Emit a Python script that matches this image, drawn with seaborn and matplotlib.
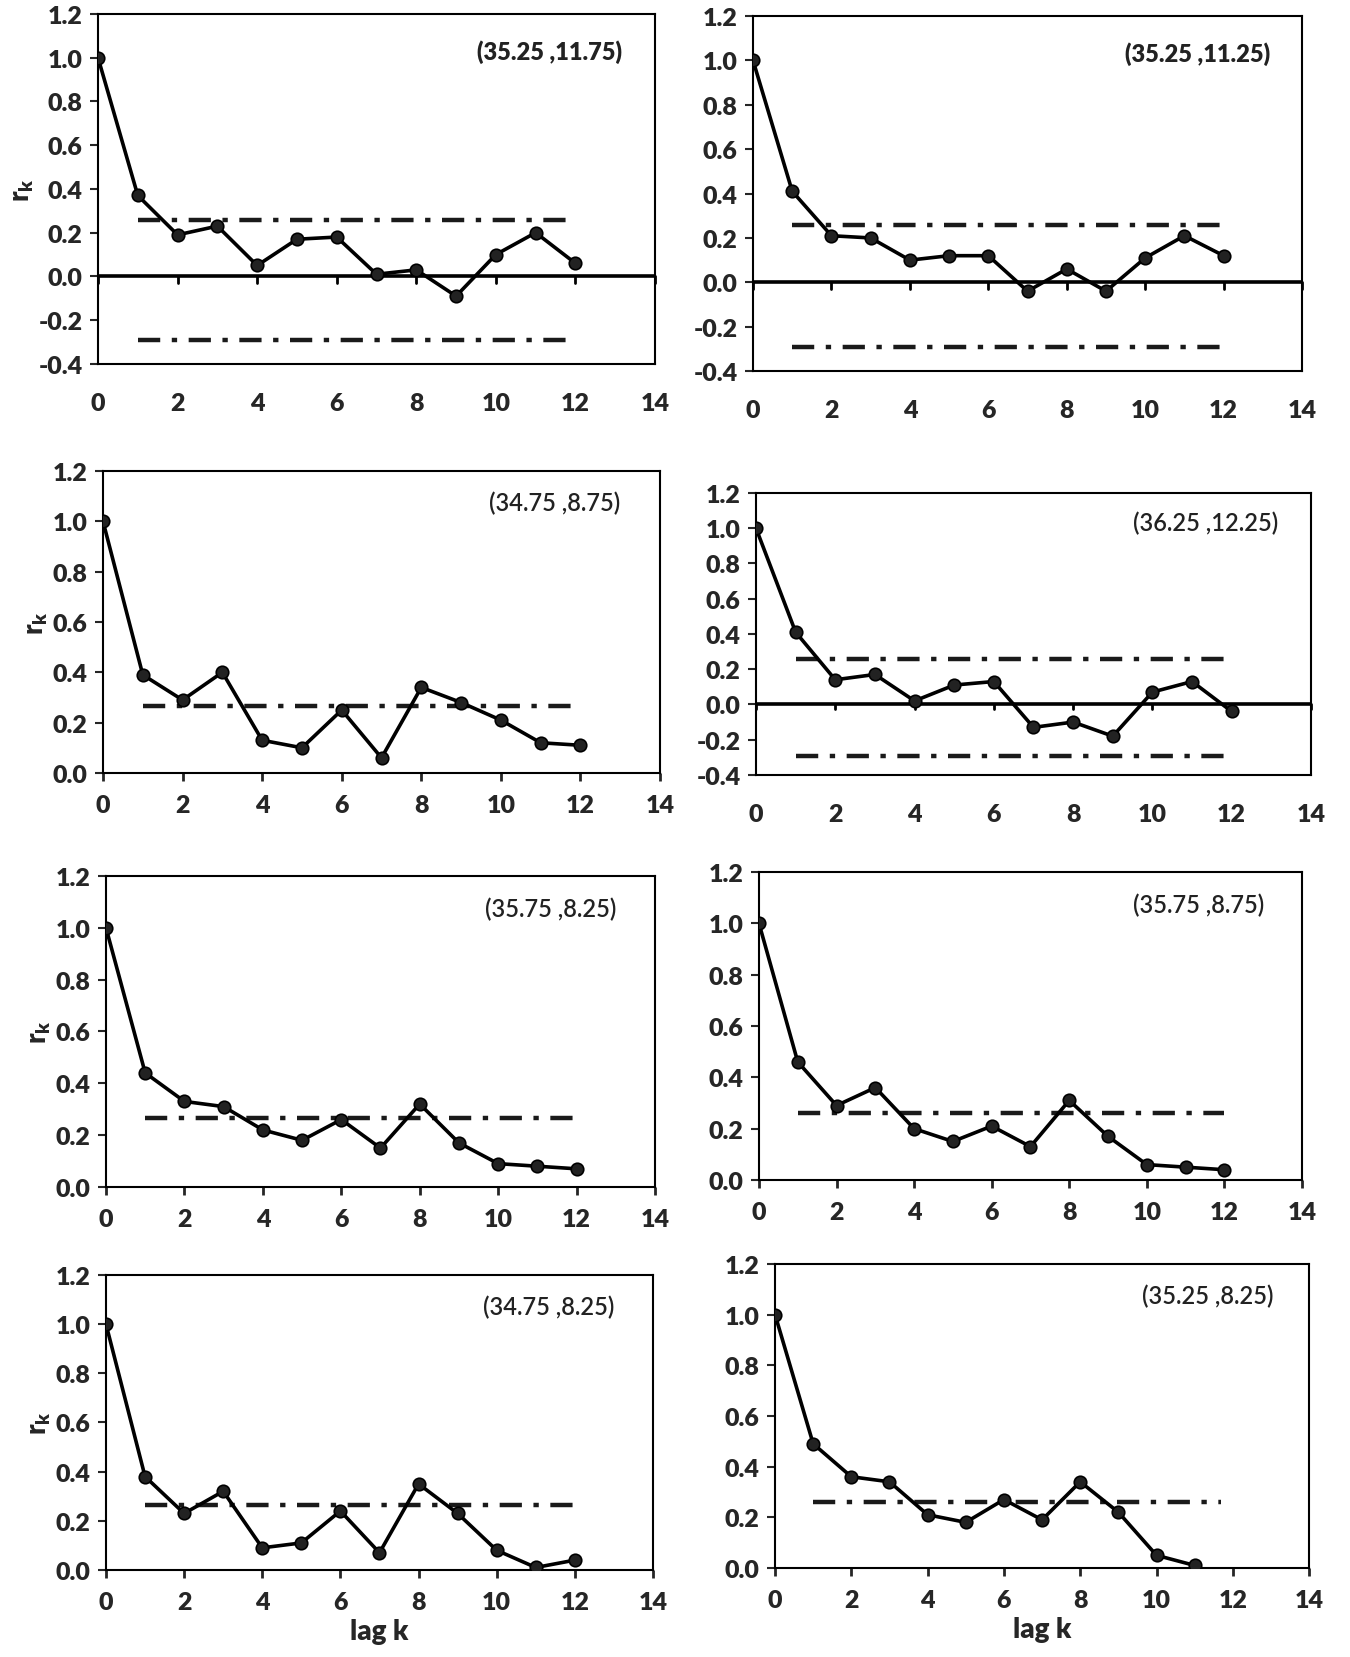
import matplotlib
matplotlib.use("Agg")
import matplotlib.pyplot as plt
import seaborn as sns
import pandas as pd

# ---------------- data ----------------
lags = list(range(13))
titles = ["(35.25 ,11.75)", "(35.25 ,11.25)", "(34.75 ,8.75)", "(36.25 ,12.25)",
          "(35.75 ,8.25)", "(35.75 ,8.75)", "(34.75 ,8.25)", "(35.25 ,8.25)"]
r_35_25_11_75 = [1.00, 0.37, 0.19, 0.23, 0.05, 0.17, 0.18, 0.01, 0.03, -0.09, 0.10, 0.20, 0.06]
r_35_25_11_25 = [1.00, 0.41, 0.21, 0.20, 0.10, 0.12, 0.12, -0.04, 0.06, -0.04, 0.11, 0.21, 0.12]
r_34_75_8_75 = [1.00, 0.39, 0.29, 0.40, 0.13, 0.10, 0.25, 0.06, 0.34, 0.28, 0.21, 0.12, 0.11]
r_36_25_12_25 = [1.00, 0.41, 0.14, 0.17, 0.02, 0.11, 0.13, -0.13, -0.10, -0.18, 0.07, 0.13, -0.04]
r_35_75_8_25 = [1.00, 0.44, 0.33, 0.31, 0.22, 0.18, 0.26, 0.15, 0.32, 0.17, 0.09, 0.08, 0.07]
r_35_75_8_75 = [1.00, 0.46, 0.29, 0.36, 0.20, 0.15, 0.21, 0.13, 0.31, 0.17, 0.06, 0.05, 0.04]
r_34_75_8_25 = [1.00, 0.38, 0.23, 0.32, 0.09, 0.11, 0.24, 0.07, 0.35, 0.23, 0.08, 0.01, 0.04]
r_35_25_8_25 = [1.00, 0.49, 0.36, 0.34, 0.21, 0.18, 0.27, 0.19, 0.34, 0.22, 0.05, 0.01]
series = [r_35_25_11_75, r_35_25_11_25, r_34_75_8_75, r_36_25_12_25,
          r_35_75_8_25, r_35_75_8_75, r_34_75_8_25, r_35_25_8_25]
upper_limit = [0.26, 0.26, 0.265, 0.26, 0.265, 0.26, 0.265, 0.26]
lower_limit = [-0.29, -0.29, None, -0.29, None, None, None, None]
band_end = [12, 12, 12, 12, 12, 12, 12, 11.7]
x_ticks = [0, 2, 4, 6, 8, 10, 12, 14]

# ---------------- style ----------------
sns.set_theme(style="white")
FONT = ["Lato", "DejaVu Sans"]
plt.rcParams["font.family"] = FONT
plt.rcParams["font.weight"] = "bold"

fig = plt.figure(figsize=(13.5, 16.58), dpi=100)

# axes positions [left, bottom, width, height] in figure fraction
positions = [
    [0.0726, 0.7799, 0.4126, 0.2111],
    [0.5578, 0.7756, 0.4067, 0.2141],
    [0.0763, 0.5332, 0.4126, 0.1821],
    [0.5600, 0.5320, 0.4111, 0.1701],
    [0.0785, 0.2835, 0.4067, 0.1876],
    [0.5622, 0.2877, 0.4022, 0.1858],
    [0.0785, 0.0525, 0.4052, 0.1779],
    [0.5741, 0.0537, 0.3956, 0.1834],
]

dashdot = (0, (5, 2.6, 1.2, 2.6))
TICK_FS = 18

for i, (pos, vals) in enumerate(zip(positions, series)):
    ax = fig.add_axes(pos)
    df = pd.DataFrame({"lag": lags[:len(vals)], "r": vals})
    sns.lineplot(data=df, x="lag", y="r", ax=ax, color="black", lw=2.6,
                 marker="o", markersize=9, markerfacecolor="#222222",
                 markeredgecolor="black", markeredgewidth=1.2, zorder=5)
    # confidence limits
    ax.hlines(upper_limit[i], 1, band_end[i], colors="#1a1a1a", lw=3.2,
              linestyles=[dashdot], zorder=3)
    neg = lower_limit[i] is not None
    if neg:
        ax.hlines(lower_limit[i], 1, band_end[i], colors="#1a1a1a", lw=3.2,
                  linestyles=[dashdot], zorder=3)
        ax.axhline(0, color="black", lw=2.6, zorder=4)
        ax.set_ylim(-0.4, 1.2)
        ax.set_yticks([-0.4, -0.2, 0.0, 0.2, 0.4, 0.6, 0.8, 1.0, 1.2])
        # tick marks on the zero line
        for xt in x_ticks:
            ax.plot([xt, xt], [0, -0.028], color="black", lw=2, clip_on=False, zorder=4)
        ax.tick_params(axis="x", length=0, pad=20)
    else:
        ax.set_ylim(0.0, 1.2)
        ax.set_yticks([0.0, 0.2, 0.4, 0.6, 0.8, 1.0, 1.2])
        ax.tick_params(axis="x", length=6, width=2, direction="out", pad=9, bottom=True)
    ax.set_xlim(0, 14)
    ax.set_xticks(x_ticks)
    ax.set_xticklabels([str(t) for t in x_ticks], fontsize=TICK_FS, fontweight="heavy")
    ax.set_yticklabels([f"{t:.1f}" for t in ax.get_yticks()], fontsize=TICK_FS,
                       fontweight="heavy")
    ax.tick_params(axis="y", length=6, width=1.5, direction="out", pad=5, left=True)
    for sp in ax.spines.values():
        sp.set_visible(True)
        sp.set_color("black")
        sp.set_linewidth(1.5)
    ax.grid(False)
    ax.set_facecolor("white")

    ax.text(0.81, 0.895, titles[i], transform=ax.transAxes, ha="center", va="center",
            fontsize=17, fontweight="heavy" if i < 2 else "semibold", color="#222222")

    if i % 2 == 0:
        ax.set_ylabel(r"r$_\mathregular{k}$", fontsize=20, fontweight="heavy", labelpad=2)
    else:
        ax.set_ylabel("")
    if i >= 6:
        ax.set_xlabel("lag k", fontsize=20, fontweight="heavy", labelpad=4)
    else:
        ax.set_xlabel("")

fig.savefig("out.png", dpi=100, facecolor="white")
